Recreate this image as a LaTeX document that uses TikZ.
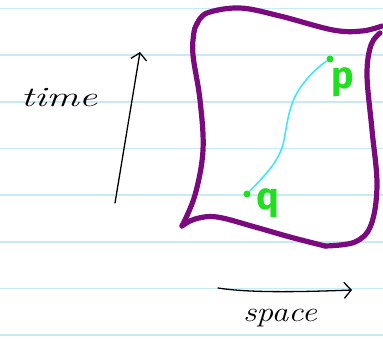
\documentclass[tikz,border=0pt]{standalone}
\usepackage{fontspec}
\newfontfamily\printfont{Fira Sans}
\usetikzlibrary{arrows.meta}
\definecolor{ruled}{HTML}{C8EAF7}
\definecolor{frame}{HTML}{7A0A7E}
\definecolor{world}{HTML}{38E6FA}
\definecolor{pt}{HTML}{1EE01E}
\tikzset{
  ruleline/.style={ruled, line width=1.6pt},
  framestroke/.style={frame, line width=5.2pt, line cap=round, line join=round},
  axis/.style={black, line width=1.3pt, line cap=round, -{Straight Barb[length=7pt,width=16pt,line width=1.3pt]}},
  handlabel/.style={font=\fontsize{28}{28}\selectfont\itshape, inner sep=0pt},
  ptlabel/.style={pt, font=\printfont\bfseries\fontsize{38}{38}\selectfont, inner sep=0pt},
  ptdot/.style={circle, fill=pt, inner sep=0pt, minimum size=7pt}
}
\begin{document}
\begin{tikzpicture}[x=1pt,y=-1pt]
\useasboundingbox (0,0) rectangle (383,338);
\fill[white] (0,0) rectangle (383,338);
% ruled lines
\foreach \yy in {8.3,55,101.7,148.3,195,241.7,288.3,334.7}
  \draw[ruleline] (0,\yy) -- (383,\yy);
% frame
\draw[framestroke] plot[smooth, tension=0.6] coordinates {(197,24) (207,13) (240,8) (280,16) (333,30) (362,31) (382,26)};
\draw[framestroke] plot[smooth, tension=0.6] coordinates {(380,33) (371,45) (367,75) (372,130) (377,185) (371,225) (355,242) (325,246)};
\draw[framestroke] plot[smooth, tension=0.6] coordinates {(325,246) (290,237) (255,227) (217,217) (195,219) (182,226)};
\draw[framestroke] plot[smooth, tension=0.6] coordinates {(182,226) (195,195) (203,150) (200,100) (193,55) (194,32) (197,24)};
% points
\node[ptdot] (q) at (247,194) {};
\node[ptdot] (p) at (330,59) {};
\draw[world, line width=1.5pt] (q) .. controls (262,178) and (280,162) .. (284,140)
  .. controls (288,118) and (290,100) .. (303,84) .. controls (312,72) and (322,64) .. (p);
\node[ptlabel] (plab) at (343,82) {p};
\node[ptlabel] (qlab) at (268,203) {q};
% time axis
\coordinate (t0) at (115,203);
\coordinate (t1) at (140,52);
\draw[axis] (t0) -- (t1);
\node[handlabel, xscale=1.45] (time) at (59,98) {time};
% space axis
\coordinate (s0) at (218,288);
\coordinate (s1) at (352,290);
\draw[axis] (s0) .. controls (250,293) and (300,292) .. (s1);
\node[handlabel, xscale=1.2] (space) at (280,318) {space};
\end{tikzpicture}
\end{document}
